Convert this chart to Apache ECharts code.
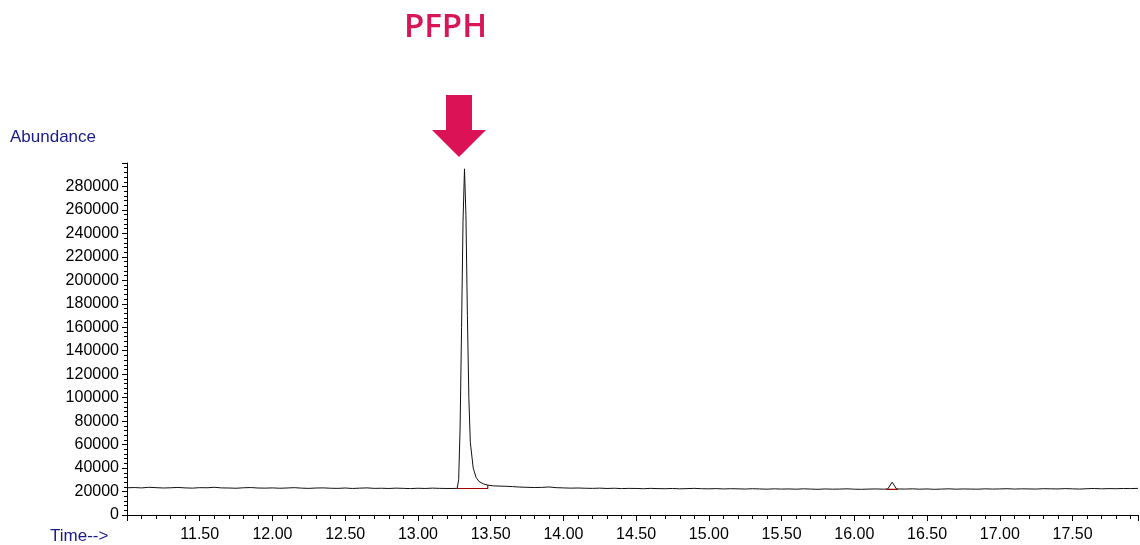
<!DOCTYPE html>
<html>
<head>
<meta charset="utf-8">
<script src="https://cdn.jsdelivr.net/npm/echarts@6/dist/echarts.min.js"></script>
<style>html,body{margin:0;background:#fff}#chart{width:1140px;height:545px}</style>
</head>
<body>
<div id="chart"></div>
<script>
// baseline chunks sampled every 0.05 min
var step = 0.05;
var seg1Start = 11.00;
var seg1 = [23200,23400,23100,23600,23300,23000,23200,23500,23100,22900,23300,23200,23600,23100,23000,22800,23200,23400,23000,22900,23100,22800,23000,23300,22900,22700,23000,23100,22800,22700,23000,22600,22900,23100,22700,22800,22600,22900,22700,22500,22800,22600,22900,22700,22600];
var pfphPeak = [[13.24,22600],[13.27,22700],[13.28,30000],[13.29,75000],[13.30,160000],[13.31,250000],[13.32,295000],[13.33,255000],[13.34,170000],[13.35,100000],[13.36,62000],[13.38,40000],[13.40,32000],[13.42,28500],[13.45,26500],[13.48,25500],[13.52,24800]];
var seg2Start = 13.60;
var seg2 = [24500,24200,23800,23600,23400,23500,23900,23300,23100,22900,23000,22800,22700,22900,22600,22800,22500,22700,22600,22400,22700,22500,22400,22600,22300,22500,22700,22400,22300,22500,22200,22400,22300,22100,22400,22200,22000,22300,22100,22200,22000,22300,22100,21900,22200,22000,22100,22300,22000,21900,22100,22200,22000];
var smallPeak = [[16.23,22200],[16.26,28000],[16.29,22200]];
var seg3Start = 16.35;
var seg3 = [22100,22300,22000,22200,21900,22100,22300,22000,22200,22100,22000,22300,22100,22200,22400,22100,22300,22200,22100,22400,22300,22200,22500,22300,22100,22400,22600,22300,22500,22400,22600,22500,22700];
var baseline1 = [[13.27,22600],[13.48,22600],[13.48,25500]];
var baseline2 = [[16.22,21900],[16.30,21900]];

function chunk(start, vals) {
  return vals.map(function (v, i) { return [+(start + i * step).toFixed(2), v]; });
}
var tic = [].concat(chunk(seg1Start, seg1), pfphPeak, chunk(seg2Start, seg2), smallPeak, chunk(seg3Start, seg3));

var chart = echarts.init(document.getElementById('chart'));
var lbl = { fontFamily: 'Liberation Sans', fontSize: 16, color: '#000' };
chart.setOption({
  animation: false,
  grid: { left: 127, right: 2, top: 163, bottom: 30 },
  xAxis: {
    type: 'value', min: 11.0, max: 17.95, interval: 0.5,
    axisLine: { lineStyle: { color: '#000' } },
    axisTick: { length: 6, lineStyle: { color: '#000' } },
    minorTick: { show: true, splitNumber: 5, length: 4, lineStyle: { color: '#000' } },
    splitLine: { show: false },
    axisLabel: Object.assign({ margin: 12, showMinLabel: false, showMaxLabel: false, formatter: function (v) { return v.toFixed(2); } }, lbl)
  },
  yAxis: {
    type: 'value', min: 0, max: 300000, interval: 20000,
    axisLine: { show: true, lineStyle: { color: '#000' } },
    axisTick: { show: true, length: 5, lineStyle: { color: '#000' } },
    minorTick: { show: true, splitNumber: 5, length: 3, lineStyle: { color: '#000' } },
    splitLine: { show: false },
    axisLabel: Object.assign({ margin: 8, showMaxLabel: false, formatter: function (v) { return String(v); } }, lbl)
  },
  series: [
    { type: 'line', data: tic, showSymbol: false, lineStyle: { color: '#111', width: 1 } },
    { type: 'line', data: baseline1, showSymbol: false, lineStyle: { color: '#a00000', width: 1.2 } },
    { type: 'line', data: baseline2, showSymbol: false, lineStyle: { color: '#a00000', width: 1.2 } }
  ],
  graphic: [
    { type: 'text', left: 404, top: 11, style: { text: 'PFPH', fontFamily: 'Open Sans', fontWeight: 600, fontSize: 33, fill: '#d81557' } },
    { type: 'polygon', shape: { points: [[446,95],[472,95],[472,130],[486,130],[459,157],[432,130],[446,130]] }, style: { fill: '#dc1257' } },
    { type: 'text', left: 10, top: 129, style: { text: 'Abundance', fontFamily: 'Liberation Sans', fontSize: 17, fill: '#1a1a8c' } },
    { type: 'text', left: 50, top: 528, style: { text: 'Time-->', fontFamily: 'Liberation Sans', fontSize: 17, fill: '#1a1a8c' } }
  ]
});
</script>
</body>
</html>
